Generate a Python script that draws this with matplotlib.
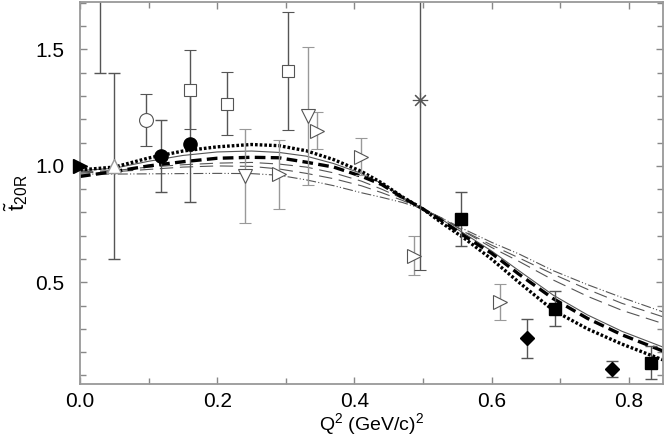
import matplotlib
matplotlib.use("Agg")
import matplotlib.pyplot as plt
from matplotlib.ticker import MultipleLocator

plt.rcParams['font.family'] = ['Liberation Sans', 'DejaVu Sans']
plt.rcParams['mathtext.default'] = 'regular'

# theory curves
q_curve = [0.0, 0.05, 0.1, 0.15, 0.2, 0.25, 0.29, 0.33, 0.37, 0.41, 0.44,
           0.47, 0.5, 0.53, 0.56, 0.6, 0.64, 0.69, 0.74, 0.79, 0.85]
t_dotted = [0.983, 0.995, 1.034, 1.064, 1.082, 1.092, 1.087, 1.065, 1.027, 0.977, 0.927,
            0.867, 0.815, 0.750, 0.690, 0.600, 0.500, 0.380, 0.300, 0.235, 0.167]
t_dashed = [0.955, 0.976, 1.000, 1.018, 1.033, 1.037, 1.035, 1.016, 0.995, 0.956, 0.920,
            0.865, 0.815, 0.760, 0.700, 0.625, 0.535, 0.430, 0.345, 0.275, 0.205]
t_solid = [0.980, 0.990, 1.020, 1.045, 1.060, 1.064, 1.058, 1.042, 1.010, 0.968, 0.925,
           0.866, 0.815, 0.765, 0.710, 0.635, 0.550, 0.445, 0.360, 0.290, 0.222]
t_thin_a = [0.975, 0.980, 0.995, 1.005, 1.012, 1.015, 1.008, 0.995, 0.970, 0.935, 0.900,
            0.860, 0.815, 0.772, 0.718, 0.650, 0.590, 0.510, 0.440, 0.380, 0.323]
t_thin_b = [0.970, 0.975, 0.985, 0.995, 1.000, 0.998, 0.987, 0.968, 0.945, 0.915, 0.885,
            0.852, 0.815, 0.772, 0.720, 0.660, 0.605, 0.535, 0.470, 0.410, 0.352]
t_dashdot = [0.965, 0.965, 0.966, 0.967, 0.968, 0.967, 0.960, 0.940, 0.915, 0.885, 0.865,
             0.843, 0.815, 0.772, 0.728, 0.672, 0.622, 0.550, 0.490, 0.435, 0.373]

# data points (Q^2, t20R, error)
q_ftri, t_ftri = [0.0], [1.0]
q_off, t_off, e_off = [0.029], [1.90], [0.50]
q_tri, t_tri, e_tri = [0.05], [1.0], [0.40]
q_ocirc, t_ocirc, e_ocirc = [0.096], [1.197], [0.112]
q_fcirc, t_fcirc, e_fcirc = [0.118, 0.16], [1.043, 1.093], [0.153, 0.25]
q_bplus, t_bplus, e_bplus = [0.16], [1.328], [0.17]
q_osq, t_osq, e_osq = [0.214, 0.303], [1.268, 1.406], [0.134, 0.253]
q_itri, t_itri, e_itri = [0.241, 0.333], [0.957, 1.214], [0.20, 0.298]
q_rtri = [0.29, 0.346, 0.409, 0.487, 0.613]
t_rtri = [0.964, 1.152, 1.040, 0.615, 0.416]
e_rtri = [0.148, 0.078, 0.080, 0.085, 0.077]
q_ast, t_ast, e_ast = [0.495], [1.285], [0.73]
q_fsq, t_fsq, e_fsq = [0.556, 0.693, 0.832], [0.772, 0.387, 0.155], [0.116, 0.075, 0.07]
q_dia, t_dia, e_dia = [0.651, 0.776], [0.259, 0.128], [0.085, 0.035]

dark = '#555555'
light = '#999999'

fig = plt.figure(figsize=(6.64, 4.41), dpi=100)
ax = fig.add_axes([0.1205, 0.129, 0.878, 0.867])

#### curvas ####
ax.plot(q_curve, t_dashdot, color='#555555', lw=0.8, linestyle=(0, (9, 2, 1, 2, 1, 2)))
ax.plot(q_curve, t_thin_b, color='#555555', lw=0.8, linestyle=(0, (12, 6)))
ax.plot(q_curve, t_thin_a, color='#555555', lw=0.8, linestyle=(0, (12, 6)))
ax.plot(q_curve, t_solid, color='#555555', lw=0.8)
ax.plot(q_curve, t_dashed, color='black', lw=2.4, linestyle=(0, (3.2, 1.6)))
ax.plot(q_curve, t_dotted, color='black', lw=2.4, linestyle=(0, (0.8, 0.6)))

#### puntos ####
eb = dict(capsize=4, elinewidth=1.0, capthick=1.0, linestyle='none')
ax.errorbar(q_off, t_off, yerr=e_off, ecolor=dark, marker='none', **eb)
ax.errorbar(q_tri, t_tri, yerr=e_tri, ecolor=dark, marker='^', ms=10,
            mfc='white', mec=light, **eb)
ax.errorbar(q_ocirc, t_ocirc, yerr=e_ocirc, ecolor=dark, marker='o', ms=10,
            mfc='white', mec=dark, mew=0.8, **eb)
ax.errorbar(q_fcirc, t_fcirc, yerr=e_fcirc, ecolor=dark, marker='o', ms=9.5,
            mfc='black', mec='black', **eb)
ax.errorbar(q_bplus, t_bplus, yerr=e_bplus, ecolor=dark, marker='s', ms=8,
            mfc='white', mec=dark, mew=0.8, **eb)
ax.plot(q_bplus, t_bplus, marker='+', ms=8, mec=dark, mew=0.8, linestyle='none')
ax.errorbar(q_osq, t_osq, yerr=e_osq, ecolor=dark, marker='s', ms=8.5,
            mfc='white', mec=dark, mew=0.8, **eb)
ax.errorbar(q_itri, t_itri, yerr=e_itri, ecolor=light, marker='v', ms=10.5,
            mfc='white', mec=dark, mew=0.8, **eb)
ax.errorbar(q_rtri, t_rtri, yerr=e_rtri, ecolor=light, marker='>', ms=10.5,
            mfc='white', mec=dark, mew=0.8, **eb)
ax.errorbar(q_ast, t_ast, yerr=e_ast, ecolor=dark, marker=(8, 2, 0), ms=11,
            mec=dark, mew=0.8, **eb)
ax.errorbar(q_fsq, t_fsq, yerr=e_fsq, ecolor=dark, marker='s', ms=8,
            mfc='black', mec='black', **eb)
ax.errorbar(q_dia, t_dia, yerr=e_dia, ecolor=dark, marker='D', ms=7,
            mfc='black', mec='black', **eb)
ax.plot(q_ftri, t_ftri, marker='>', ms=10, color='black', linestyle='none',
        clip_on=False, zorder=5)

#### ejes ####
ax.set_xlim(0, 0.85)
ax.set_ylim(0.063, 1.705)
ax.xaxis.set_major_locator(MultipleLocator(0.2))
ax.xaxis.set_minor_locator(MultipleLocator(0.1))
ax.yaxis.set_major_locator(MultipleLocator(0.5))
ax.yaxis.set_minor_locator(MultipleLocator(0.1))
ax.xaxis.set_major_formatter(lambda v, p: '%.1f' % v)
ax.yaxis.set_major_formatter(lambda v, p: '%.1f' % v)
ax.tick_params(which='both', direction='in', top=True, right=True,
               color='#888888', width=1.0, labelsize=15)
ax.tick_params(which='major', length=5)
ax.tick_params(which='minor', length=4)
ax.tick_params(axis='x', pad=6)
ax.tick_params(axis='y', pad=11)
for s in ax.spines.values():
    s.set_color('#999999')
    s.set_linewidth(1.3)

ax.set_xlabel(r'Q$^2$ (GeV/c)$^2$', fontsize=14, labelpad=0)
ax.set_ylabel(r'$\tilde{t}_{20R}$', fontsize=16, labelpad=4)

plt.savefig('out.png', dpi=100)
